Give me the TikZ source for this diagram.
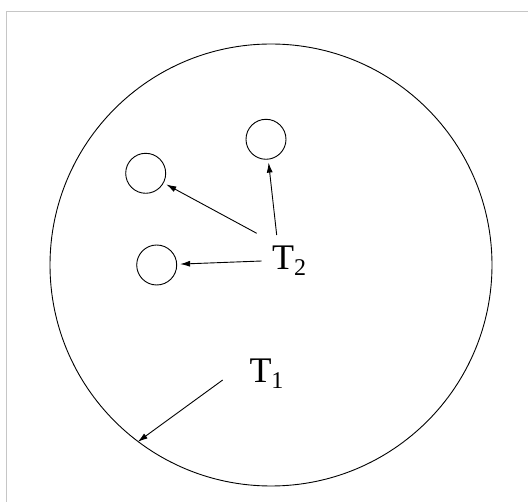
\documentclass[tikz,border=0pt]{standalone}
\usepackage{fontspec}
\setmainfont{Liberation Serif}
\usetikzlibrary{arrows.meta}

\tikzset{
  hole/.style={draw, circle, minimum size=40pt, inner sep=0pt, line width=0.9pt},
  pointer/.style={-{Latex[length=10pt,width=6pt]}, line width=0.9pt, shorten >=3pt},
  tlabel/.style={anchor=base west, inner sep=0pt, font=\fontsize{36}{40}\selectfont}
}
\newcommand{\tsub}[1]{\raisebox{-6pt}{\fontsize{24}{24}\selectfont #1}}

\begin{document}
\begin{tikzpicture}[x=1pt, y=-1pt]
    \useasboundingbox (0,0) rectangle (528,502);
    \draw[gray!45, line width=0.8pt] (6,502) -- (6,11) -- (528,11);

    % outer body
    \node[draw, circle, minimum size=442pt, inner sep=0pt, line width=0.9pt] (outer) at (271,265) {};

    % inner holes
    \node[hole] (holeA) at (145.7,173.3) {};
    \node[hole] (holeB) at (266,139.3) {};
    \node[hole] (holeC) at (156.7,265) {};

    % labels
    \node[tlabel] (t2) at (272,269.3) {T\tsub{2}};
    \node[tlabel] (t1) at (249.3,382.7) {T\tsub{1}};

    \coordinate (fromA) at (256.7,233.3);
    \coordinate (fromB) at (276.7,235);
    \coordinate (fromC) at (261.7,261);
    \coordinate (fromT) at (222.7,380);

    \draw[pointer] (fromA) -- (holeA);
    \draw[pointer] (fromB) -- (holeB);
    \draw[pointer] (fromC) -- (holeC);
    \draw[pointer, shorten >=0pt] (fromT) -- (outer.233.3);
\end{tikzpicture}
\end{document}
